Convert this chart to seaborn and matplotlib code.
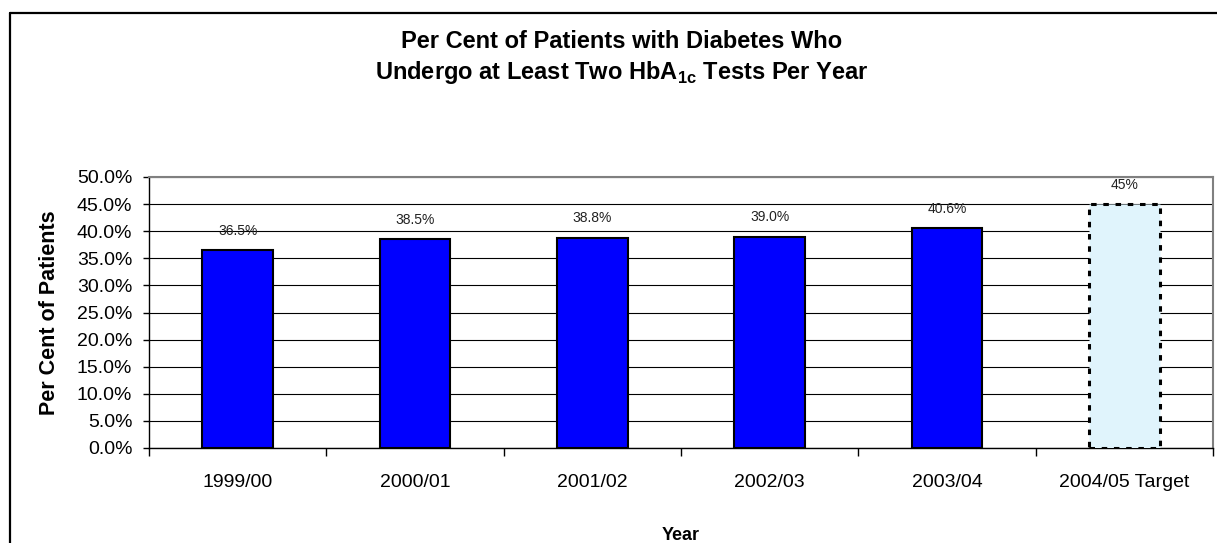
import numpy as np
import pandas as pd
import matplotlib
matplotlib.use('Agg')
from matplotlib import pyplot as plt
from matplotlib.lines import Line2D
from matplotlib.ticker import FuncFormatter, FixedLocator
import seaborn as sns

# values
years = ["1999/00", "2000/01", "2001/02", "2002/03", "2003/04", "2004/05 Target"]
pct = [36.5, 38.5, 38.8, 39.0, 40.6, 45.0]
bar_labels = ["36.5%", "38.5%", "38.8%", "39.0%", "40.6%", "45%"]
yticks = [0, 5, 10, 15, 20, 25, 30, 35, 40, 45, 50]

df = pd.DataFrame({"Year": years, "Pct": pct})

sns.set_theme(style="white")
plt.rcParams['font.family'] = ['Liberation Sans', 'DejaVu Sans']
plt.rcParams['mathtext.fontset'] = 'custom'
plt.rcParams['mathtext.rm'] = 'Liberation Sans'
plt.rcParams['mathtext.bf'] = 'Liberation Sans:bold'
plt.rcParams['text.color'] = 'black'
plt.rcParams['axes.labelcolor'] = 'black'

fig = plt.figure(figsize=(12.17, 5.43), dpi=100)
ax = fig.add_axes([149 / 1217, 1 - 448 / 543, 1064 / 1217, 271 / 543])

colors = ["#0000FF"] * 5 + ["#E0F4FC"]
sns.barplot(data=df, x="Year", y="Pct", hue="Year", palette=colors, width=0.4,
            saturation=1, edgecolor="black", linewidth=1.5, legend=False, ax=ax, zorder=3)

# target bar: pale fill with dotted outline
target = ax.containers[-1].patches[0]
target.set_linestyle((0, (1.8, 2.2)))
target.set_linewidth(2.2)

for cont, lab in zip(ax.containers, bar_labels):
    p = cont.patches[0]
    ax.annotate(lab, (p.get_x() + p.get_width() / 2, p.get_height()),
                xytext=(0, 14), textcoords="offset points", ha="center", va="center",
                fontsize=10, color="#222222")

ax.set_ylim(0, 50)
ax.set_xlim(-0.5, 5.5)
ax.set_yticks(yticks)
ax.yaxis.set_major_formatter(FuncFormatter(lambda v, _: f"{v:.1f}%"))
ax.yaxis.grid(True, color="black", linewidth=0.8, zorder=0)
ax.set_axisbelow(True)

ax.xaxis.set_minor_locator(FixedLocator(np.arange(-0.5, 6, 1)))
ax.tick_params(axis="x", which="major", length=0, pad=19, labelsize=14, colors="black")
ax.tick_params(axis="x", which="minor", length=6, width=1, direction="out", color="black", bottom=True)
ax.tick_params(axis="y", length=4, width=1, direction="out", left=True, pad=8,
               labelsize=14, colors="black")

for side in ["left", "bottom"]:
    ax.spines[side].set_color("black")
    ax.spines[side].set_linewidth(1)
for side in ["top", "right"]:
    ax.spines[side].set_visible(True)
    ax.spines[side].set_color("#808080")
    ax.spines[side].set_linewidth(1.5)

ax.set_xlabel("Year", fontsize=13, fontweight="bold", labelpad=26)
ax.set_ylabel("Per Cent of Patients", fontsize=15.5, fontweight="bold", labelpad=12)

fig.text(622 / 1217, 1 - 42 / 543, "Per Cent of Patients with Diabetes Who",
         ha="center", va="center", fontsize=17, fontweight="bold")
fig.text(622 / 1217, 1 - 72 / 543, r"Undergo at Least Two HbA$_{\mathbf{1c}}$ Tests Per Year",
         ha="center", va="center", fontsize=17, fontweight="bold")

# outer chart border (runs off the right and bottom edges)
fig.add_artist(Line2D([10 / 1217, 1.0], [1 - 13 / 543, 1 - 13 / 543],
                      transform=fig.transFigure, color="black", linewidth=1.6))
fig.add_artist(Line2D([10 / 1217, 10 / 1217], [1 - 13 / 543, 0.0],
                      transform=fig.transFigure, color="black", linewidth=1.6))

plt.savefig("out.png", dpi=100)
